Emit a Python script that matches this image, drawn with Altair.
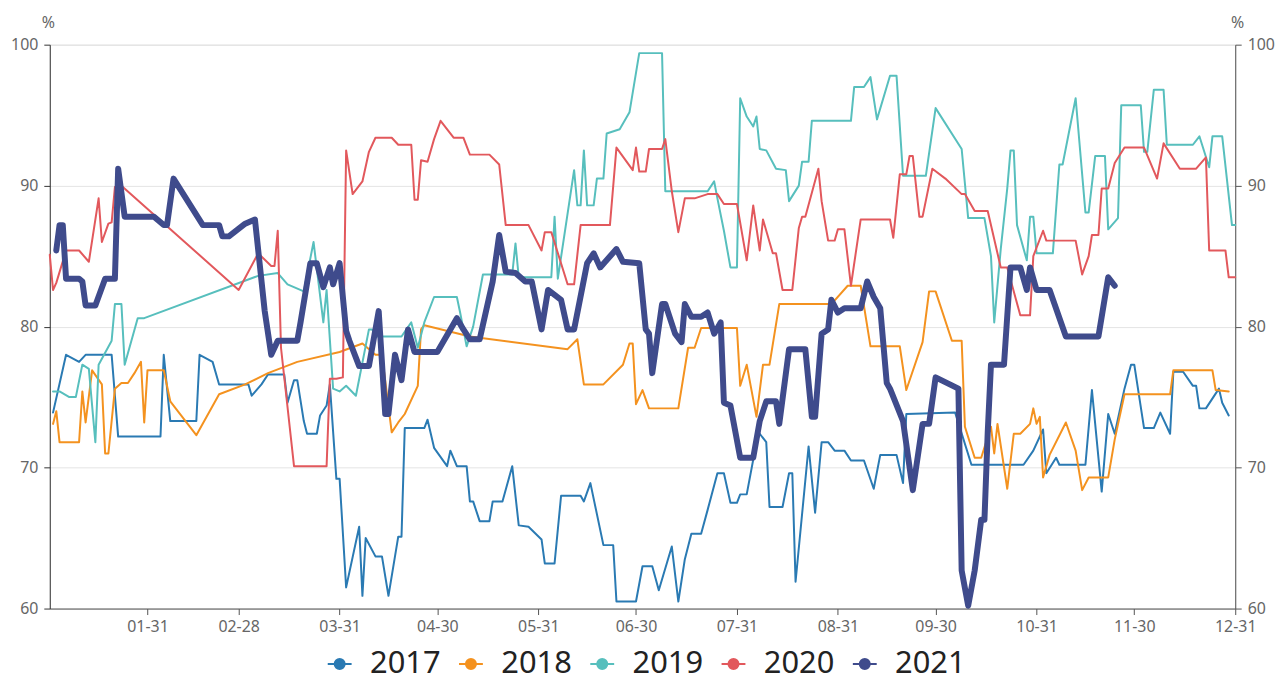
import altair as alt
import pandas as pd

years = ["2017", "2018", "2019", "2020", "2021"]
colors = ["#2a7ab3", "#f4921f", "#57bfbd", "#e2585c", "#3f4b8c"]
tick_labels = ["01-31", "02-28", "03-31", "04-30", "05-31", "06-30",
               "07-31", "08-31", "09-30", "10-31", "11-30", "12-31"]

# (day of year starting at 0 = Jan 1, value %)
p2017 = [(1,73.9),(5,78.0),(9,77.5),(11,78.0),(19,78.0),(21,72.2),(34,72.2),(35,78.0),(37,73.3),(45,73.3),
         (46,78.0),(50,77.5),(52,75.9),(61,75.9),(62,75.1),(65,75.9),(67,76.6),(72,76.6),(73,74.6),(75,76.2),
         (76,76.2),(78,73.3),(79,72.4),(82,72.4),(83,73.7),(85,74.4),(86,75.9),(88,69.2),(89,69.2),(91,61.5),
         (95,65.8),(96,60.9),(97,65.0),(100,63.7),(102,63.7),(104,60.9),(107,65.1),(108,65.1),(109,72.8),(115,72.8),
         (116,73.4),(118,71.4),(122,70.1),(123,71.2),(125,70.1),(128,70.1),(129,67.6),(130,67.6),(132,66.2),(135,66.2),
         (136,67.6),(139,67.6),(142,70.1),(144,65.9),(147,65.8),(151,64.9),(152,63.2),(155,63.2),(157,68.0),(163,68.0),
         (164,67.6),(166,68.9),(170,64.5),(173,64.5),(174,60.5),(180,60.5),(182,63.0),(185,63.0),(187,61.3),(191,64.4),
         (193,60.5),(195,63.5),(197,65.3),(200,65.3),(202,67.0),(205,69.6),(207,69.6),(209,67.5),(211,67.5),(212,68.1),
         (214,68.1),(217,71.8),(218,72.4),(220,71.8),(221,67.2),(225,67.2),(227,69.6),(228,69.6),(229,61.9),(233,71.5),
         (235,66.8),(237,71.8),(239,71.8),(241,71.2),(244,71.2),(246,70.5),(250,70.5),(253,68.5),(255,70.9),(260,70.9),
         (262,68.9),(263,73.8),(278,73.9),(283,70.2),(299,70.2),(302,71.2),(305,72.7),(306,69.6),(309,70.7),(310,70.2),
         (318,70.2),(320,75.5),(323,68.3),(325,73.8),(327,72.4),(330,75.6),(332,77.3),(333,77.3),(336,72.8),(339,72.8),
         (341,73.9),(344,72.4),(345,76.8),(348,76.8),(351,75.8),(352,75.8),(353,74.2),(355,74.2),(359,75.6),(360,74.6),
         (362,73.7)]

p2018 = [(1,73.1),(2,74.0),(3,71.8),(9,71.8),(10,75.4),(11,73.2),(13,76.9),(16,75.9),(17,71.0),(18,71.0),
         (20,75.6),(22,76.0),(24,76.0),(26,76.7),(28,77.5),(29,73.2),(30,76.9),(35,76.9),(37,74.7),(45,72.3),
         (52,75.2),(60,75.9),(67,76.7),(76,77.5),(89,78.2),(96,78.8),(100,78.0),(102,78.0),(105,72.5),(107,73.2),
         (109,73.8),(113,75.8),(114,79.8),(115,80.1),(129,79.3),(159,78.4),(162,79.1),(164,75.9),(170,75.9),(176,77.3),
         (178,78.8),(179,78.8),(180,74.5),(182,75.5),(184,74.2),(193,74.2),(196,78.5),(198,78.5),(200,79.9),(211,79.9),
         (212,75.8),(214,77.3),(217,73.6),(219,77.3),(221,77.3),(224,81.6),(240,81.6),(245,82.9),(249,82.9),(252,78.6),
         (261,78.6),(263,75.5),(268,78.9),(270,82.5),(272,82.5),(277,79.0),(280,79.0),(281,72.9),(284,70.7),(286,70.7),
         (289,72.9),(290,71.0),(291,73.1),(294,68.5),(296,72.4),(298,72.4),(301,73.1),(302,74.2),(303,73.1),(304,73.6),
         (305,69.3),(307,70.9),(312,73.2),(315,71.2),(317,68.4),(319,69.3),(325,69.3),(327,72.0),(330,75.2),(344,75.2),
         (345,76.9),(357,76.9),(358,75.5),(362,75.4)]

p2019 = [(1,75.4),(3,75.4),(6,75.0),(8,75.0),(10,77.3),(12,77.0),(14,71.8),(15,77.3),(19,79.0),(20,81.6),
         (22,81.6),(23,77.3),(27,80.6),(29,80.6),(64,83.6),(70,83.8),(73,83.0),(78,82.5),(81,86.0),(84,80.3),
         (85,82.6),(87,75.6),(89,75.4),(91,75.8),(94,75.1),(98,79.8),(99,79.8),(100,79.3),(108,79.3),(111,80.3),
         (113,78.5),(115,80.3),(118,82.1),(125,82.1),(126,81.0),(128,78.6),(130,80.0),(133,83.7),(142,83.7),(143,85.9),
         (144,83.5),(154,83.5),(155,87.8),(156,83.4),(161,91.1),(162,88.6),(163,88.6),(164,92.5),(165,88.6),(167,88.6),
         (168,90.5),(170,90.5),(171,93.7),(175,94.0),(178,95.2),(181,99.4),(188,99.4),(189,89.6),(202,89.6),(204,90.3),
         (205,89.1),(207,86.8),(209,84.2),(211,84.2),(212,96.2),(214,94.9),(216,94.2),(217,94.9),(218,92.6),(220,92.5),
         (223,91.2),(226,91.1),(227,88.9),(230,90.0),(231,91.7),(233,91.7),(234,94.6),(246,94.6),(247,97.0),(250,97.0),
         (252,97.7),(254,94.7),(258,97.8),(260,97.8),(262,90.7),(269,90.7),(272,95.5),(280,92.6),(282,87.7),(287,87.7),
         (289,85.0),(290,80.3),(292,85.5),(294,89.8),(295,92.5),(296,92.5),(297,87.2),(300,84.7),(301,87.8),(302,87.8),
         (303,85.2),(308,85.2),(310,91.5),(311,91.5),(315,96.2),(318,88.1),(319,88.1),(321,92.1),(324,92.1),(325,86.9),
         (328,87.7),(329,95.7),(335,95.7),(336,92.4),(337,92.4),(339,96.8),(342,96.8),(343,92.9),(351,92.9),(353,93.5),
         (356,91.3),(357,93.5),(360,93.5),(363,87.2),(364,87.2)]

p2020 = [(0,85.1),(1,82.6),(2,83.1),(5,85.4),(9,85.4),(12,84.6),(15,89.1),(16,86.0),(18,87.3),(19,87.4),
         (20,89.9),(22,90.0),(58,82.6),(64,85.2),(68,84.3),(69,84.3),(70,86.8),(71,78.5),(75,70.1),(85,70.1),
         (86,76.3),(88,76.3),(90,76.4),(91,92.5),(93,89.4),(96,90.3),(98,92.4),(100,93.4),(105,93.4),(107,92.9),
         (111,92.9),(112,89.0),(113,89.0),(114,91.8),(116,91.7),(118,93.3),(120,94.6),(124,93.4),(127,93.4),(129,92.2),
         (135,92.2),(138,91.5),(140,87.2),(147,87.2),(151,85.4),(152,86.7),(154,86.7),(159,83.0),(161,83.0),(163,87.2),
         (172,87.2),(174,92.7),(179,91.1),(180,92.7),(181,91.0),(183,91.0),(184,92.6),(188,92.6),(189,93.3),(191,89.6),
         (193,86.7),(195,89.1),(198,89.1),(202,89.4),(205,89.4),(207,88.7),(211,88.7),(214,84.7),(216,88.6),(218,85.4),
         (219,87.6),(222,85.2),(223,85.2),(225,82.6),(228,82.6),(230,87.0),(231,87.8),(232,87.8),(236,91.2),(237,88.9),
         (239,86.1),(241,86.1),(242,86.9),(244,86.9),(246,82.9),(249,87.6),(258,87.6),(259,86.3),(261,90.8),(263,90.8),
         (264,92.1),(265,92.1),(267,87.8),(268,87.8),(271,91.2),(275,90.5),(280,89.4),(281,89.4),(284,88.2),(288,88.2),
         (292,84.2),(294,84.2),(298,80.8),(301,80.8),(302,85.0),(305,86.8),(306,86.1),(315,86.1),(317,83.7),(319,85.0),
         (320,86.5),(322,86.5),(323,89.8),(325,89.8),(327,91.6),(330,92.7),(336,92.7),(340,90.5),(342,93.0),(347,91.2),
         (352,91.2),(355,92.0),(356,85.4),(361,85.4),(362,83.5),(364,83.5)]

p2021 = [(2,85.4),(3,87.2),(4,87.2),(5,83.4),(9,83.4),(10,83.2),(11,81.5),(14,81.5),(17,83.4),(20,83.4),
         (21,91.2),(23,87.8),(32,87.8),(35,87.2),(36,87.2),(38,90.5),(47,87.2),(52,87.2),(53,86.4),(55,86.4),
         (60,87.3),(63,87.6),(66,81.1),(68,78.0),(70,79.0),(76,79.0),(77,80.3),(80,84.5),(82,84.5),(84,82.8),
         (86,84.2),(87,83.0),(89,84.5),(91,79.7),(92,79.0),(95,77.2),(98,77.2),(101,81.1),(103,73.8),(104,73.8),
         (106,78.0),(108,76.2),(110,79.8),(112,78.2),(119,78.2),(125,80.6),(127,79.8),(129,79.1),(132,79.1),(136,83.2),
         (138,86.5),(140,83.9),(143,83.8),(146,83.2),(148,83.2),(151,79.8),(153,82.6),(157,81.9),(159,79.8),(161,79.8),
         (165,84.5),(167,85.2),(169,84.2),(174,85.5),(176,84.6),(181,84.5),(183,79.8),(184,79.5),(185,76.7),(188,81.6),
         (189,81.6),(192,79.5),(194,78.9),(195,81.6),(197,80.7),(200,80.7),(202,81.0),(204,79.5),(206,80.3),(207,74.6),
         (209,74.4),(212,70.7),(216,70.7),(218,73.3),(220,74.7),(223,74.7),(224,73.1),(227,78.4),(232,78.4),(234,73.6),
         (235,73.6),(237,79.5),(239,79.8),(240,81.9),(242,81.0),(244,81.3),(249,81.3),(251,83.2),(253,82.1),(255,81.3),
         (257,76.0),(258,75.6),(262,73.3),(265,68.4),(268,73.1),(270,73.1),(272,76.4),(279,75.6),(280,62.7),(282,60.2),
         (284,62.7),(286,66.3),(287,66.3),(288,72.5),(289,77.3),(293,77.3),(295,84.2),(298,84.2),(300,82.6),(301,84.2),
         (303,82.6),(307,82.6),(312,79.3),(322,79.3),(325,83.5),(327,82.9)]

series = {"2017": p2017, "2018": p2018, "2019": p2019, "2020": p2020, "2021": p2021}
widths = {"2017": 2, "2018": 2, "2019": 2, "2020": 2, "2021": 6}

start = pd.Timestamp("2021-01-01")
rows = []
for yr in years:
    for i, (d, v) in enumerate(series[yr]):
        rows.append({"year": yr, "idx": i, "value": v, "w": widths[yr],
                     "date": (start + pd.Timedelta(days=d)).strftime("%Y-%m-%d")})
df = pd.DataFrame(rows)

tick_dates = [alt.DateTime(year=2021, month=int(t[:2]), date=int(t[3:]), utc=True) for t in tick_labels]

xenc = alt.X("date:T",
             scale=alt.Scale(type="utc",
                             domain=[alt.DateTime(year=2021, month=1, date=1, utc=True),
                                     alt.DateTime(year=2021, month=12, date=31, utc=True)]),
             axis=alt.Axis(values=tick_dates, format="%m-%d", title=None, grid=False,
                           domainColor="#555", tickColor="#555", tickSize=6, labelPadding=4,
                           labelColor="#666", labelFontSize=16, labelFont="Noto Sans",
                           labelFlush=False))

yscale = alt.Scale(domain=[60, 100], nice=False, zero=False)
yvals = [60, 70, 80, 90, 100]

legend_path = "M-1,0L1,0M0.42,0A0.42,0.42,0,1,1,-0.42,0A0.42,0.42,0,1,1,0.42,0Z"

lines = alt.Chart(df).mark_line(strokeJoin="round", strokeCap="round").encode(
    x=xenc,
    y=alt.Y("value:Q", scale=yscale,
            axis=alt.Axis(values=yvals, title="%", titleAngle=0, titleX=-2, titleY=-17,
                          titleAlign="center", titleBaseline="alphabetic",
                          titleFontSize=16, titleFontWeight="normal", titleColor="#666",
                          titleFont="Noto Sans",
                          grid=True, gridColor="#e4e4e4", domainColor="#333", tickColor="#333",
                          tickSize=6, labelPadding=6, labelColor="#666", labelFontSize=16,
                          labelFont="Noto Sans")),
    color=alt.Color("year:N", scale=alt.Scale(domain=years, range=colors),
                    legend=alt.Legend(orient="none", legendX=276, legendY=607,
                                      direction="horizontal", title=None,
                                      symbolType=legend_path, symbolSize=576,
                                      symbolStrokeWidth=2, labelFontSize=31,
                                      labelFont="Noto Sans", labelColor="#222",
                                      labelOffset=15, columnPadding=14,
                                      symbolFillColor={"expr": "scale('color', datum.value)"})),
    size=alt.Size("w:Q", scale=None, legend=None),
    order=alt.Order("idx:Q"),
)

right = alt.Chart(df).mark_point(opacity=0).encode(
    x=xenc,
    y=alt.Y("value:Q", scale=yscale,
            axis=alt.Axis(orient="right", values=yvals, title="%", titleAngle=0, titleX=2, titleY=-17,
                          titleAlign="center", titleBaseline="alphabetic",
                          titleFontSize=16, titleFontWeight="normal", titleColor="#666",
                          titleFont="Noto Sans",
                          grid=False, domainColor="#555", tickColor="#555",
                          tickSize=6, labelPadding=6, labelColor="#666", labelFontSize=16,
                          labelFont="Noto Sans")),
)

chart = alt.layer(lines, right).resolve_scale(y="independent").properties(
    width=1192, height=567,
    autosize=alt.AutoSizeParams(type="none"),
    padding={"left": 42, "top": 35, "right": 42, "bottom": 76},
).configure_view(stroke=None).configure(background="white")

chart.save("out.html", embed_options={"renderer": "svg", "actions": False})
